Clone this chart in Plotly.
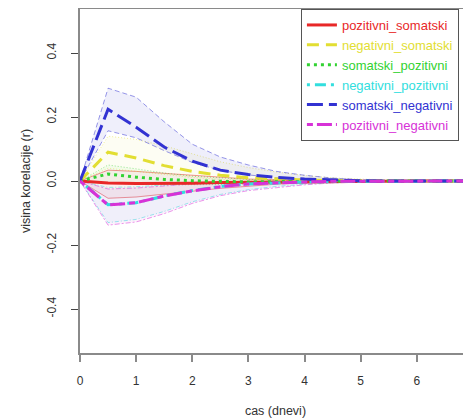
import plotly.graph_objects as go

days = [0, 0.5, 1, 1.5, 2, 2.5, 3, 3.5, 4, 4.5, 5, 5.5, 6, 6.5, 7]

series_names = ["pozitivni_somatski", "negativni_somatski", "somatski_pozitivni",
                "negativni_pozitivni", "somatski_negativni", "pozitivni_negativni"]

pozitivni_somatski = [0, -0.006, -0.008, -0.008, -0.007, -0.005, -0.004, -0.003, -0.002, -0.001, -0.001, 0, 0, 0, 0]
pozitivni_somatski_hi = [0, 0.034, 0.030, 0.024, 0.016, 0.010, 0.006, 0.004, 0.002, 0.001, 0.001, 0, 0, 0, 0]
pozitivni_somatski_lo = [0, -0.054, -0.050, -0.042, -0.032, -0.023, -0.016, -0.010, -0.006, -0.004, -0.002, -0.001, 0, 0, 0]

negativni_somatski = [0, 0.090, 0.072, 0.048, 0.030, 0.018, 0.010, 0.006, 0.003, 0.002, 0.001, 0, 0, 0, 0]
negativni_somatski_hi = [0, 0.140, 0.130, 0.110, 0.085, 0.060, 0.042, 0.028, 0.017, 0.010, 0.006, 0.003, 0.001, 0, 0]
negativni_somatski_lo = [0, 0.040, 0.030, 0.020, 0.011, 0.005, 0.002, 0.001, 0, 0, 0, 0, 0, 0, 0]

somatski_pozitivni = [0, 0.022, 0.012, 0.005, 0.001, -0.002, -0.003, -0.002, -0.001, 0, 0, 0, 0, 0, 0]
somatski_pozitivni_hi = [0, 0.050, 0.038, 0.025, 0.015, 0.009, 0.005, 0.003, 0.002, 0.001, 0, 0, 0, 0, 0]
somatski_pozitivni_lo = [0, -0.005, -0.010, -0.012, -0.012, -0.011, -0.009, -0.007, -0.005, -0.003, -0.002, -0.001, 0, 0, 0]

negativni_pozitivni = [0, -0.074, -0.068, -0.047, -0.030, -0.017, -0.009, -0.005, -0.003, -0.001, -0.001, 0, 0, 0, 0]
negativni_pozitivni_hi = [0, -0.020, -0.018, -0.012, -0.007, -0.004, -0.002, -0.001, 0, 0, 0, 0, 0, 0, 0]
negativni_pozitivni_lo = [0, -0.130, -0.120, -0.095, -0.065, -0.042, -0.027, -0.017, -0.010, -0.005, -0.002, -0.001, 0, 0, 0]

somatski_negativni = [0, 0.224, 0.168, 0.106, 0.062, 0.034, 0.020, 0.011, 0.006, 0.003, 0.001, 0, 0, 0, 0]
somatski_negativni_hi = [0, 0.290, 0.262, 0.185, 0.115, 0.075, 0.050, 0.030, 0.018, 0.009, 0.004, 0.002, 0.001, 0, 0]
somatski_negativni_lo = [0, 0.157, 0.135, 0.095, 0.058, 0.033, 0.019, 0.010, 0.005, 0.002, 0.001, 0, 0, 0, 0]

pozitivni_negativni = [0, -0.075, -0.068, -0.047, -0.031, -0.018, -0.009, -0.005, -0.003, -0.001, -0.001, 0, 0, 0, 0]
pozitivni_negativni_hi = [0, -0.025, -0.022, -0.015, -0.009, -0.005, -0.002, -0.001, 0, 0, 0, 0, 0, 0, 0]
pozitivni_negativni_lo = [0, -0.138, -0.128, -0.102, -0.070, -0.046, -0.030, -0.020, -0.012, -0.006, -0.003, -0.001, 0, 0, 0]

x_ticks = [0, 1, 2, 3, 4, 5, 6, 7]
y_ticks = [-0.4, -0.2, 0.0, 0.2, 0.4]

values = [pozitivni_somatski, negativni_somatski, somatski_pozitivni,
          negativni_pozitivni, somatski_negativni, pozitivni_negativni]
uppers = [pozitivni_somatski_hi, negativni_somatski_hi, somatski_pozitivni_hi,
          negativni_pozitivni_hi, somatski_negativni_hi, pozitivni_negativni_hi]
lowers = [pozitivni_somatski_lo, negativni_somatski_lo, somatski_pozitivni_lo,
          negativni_pozitivni_lo, somatski_negativni_lo, pozitivni_negativni_lo]

rgb = [(232, 40, 40), (226, 222, 50), (50, 210, 50), (50, 222, 222), (50, 50, 210), (215, 50, 215)]
main_dash = ["solid", "12px,7px", "3px,4px", "3px,5px,11px,5px", "16px,6px", "6px,4px,15px,4px"]
band_dash = ["solid", "1px,2px", "1px,2px", "1px,2px,4px,2px", "5px,3px", "2px,2px,5px,2px"]
fill_alpha = [0.07, 0.06, 0.05, 0.06, 0.08, 0.07]

fig = go.Figure()

# confidence bands
for i in range(len(series_names)):
    r, g, b = rgb[i]
    fig.add_trace(go.Scatter(x=days, y=uppers[i], mode="lines", showlegend=False, hoverinfo="skip",
                             line=dict(color=f"rgba({r},{g},{b},0.5)", width=1, dash=band_dash[i])))
    fig.add_trace(go.Scatter(x=days, y=lowers[i], mode="lines", showlegend=False, hoverinfo="skip",
                             fill="tonexty", fillcolor=f"rgba({r},{g},{b},{fill_alpha[i]})",
                             line=dict(color=f"rgba({r},{g},{b},0.5)", width=1, dash=band_dash[i])))

# main lines
for i, name in enumerate(series_names):
    r, g, b = rgb[i]
    col = f"rgb({r},{g},{b})"
    fig.add_trace(go.Scatter(x=days, y=values[i], mode="lines",
                             name=f"<span style='color:{col}'>{name}</span>",
                             line=dict(color=col, width=3, dash=main_dash[i])))

axis_col = "#8a8a8a"
# the page body adds an 8px offset, so the figure is sized to end at the window edge
fig.update_layout(
    width=463, height=410,
    margin=dict(l=72, r=0, t=1, b=65, autoexpand=False),
    paper_bgcolor="white", plot_bgcolor="white",
    font=dict(family="Liberation Sans, Arial, sans-serif", size=12, color="#333333"),
    showlegend=True,
    legend=dict(x=0.565, xanchor="left", y=1, yanchor="top", traceorder="normal",
                bgcolor="white", bordercolor="#555555", borderwidth=1,
                font=dict(size=13), itemwidth=30, tracegroupgap=0),
    xaxis=dict(range=[0, 6.965], tickvals=x_ticks, ticktext=[str(v) for v in x_ticks],
               showgrid=False, zeroline=False, showline=True, linecolor=axis_col, linewidth=2,
               mirror=True, ticks="outside", ticklen=7, tickcolor=axis_col, tickwidth=1.5,
               ticklabelstandoff=9, automargin=False,
               title=dict(text="cas (dnevi)", standoff=29, font=dict(size=12.5))),
    yaxis=dict(range=[-0.5375, 0.5375], tickvals=y_ticks, ticktext=[f"{v:.1f}" for v in y_ticks],
               showgrid=False, zeroline=False, showline=True, linecolor=axis_col, linewidth=2,
               ticks="outside", ticklen=7, tickcolor="#444444", tickwidth=1, tickangle=-90,
               ticklabelstandoff=10, automargin=False,
               title=dict(text="visina korelacije (r)", standoff=12, font=dict(size=12.5))),
)

fig.write_html("out.html")
